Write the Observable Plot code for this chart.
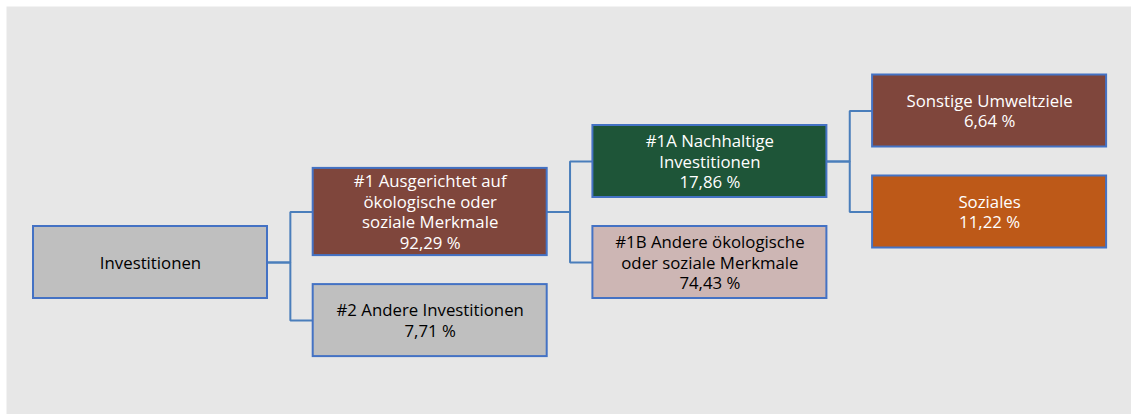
<!DOCTYPE html>
<html>
<head>
<meta charset="utf-8">
<script src="https://cdn.jsdelivr.net/npm/d3@7"></script>
<script src="https://cdn.jsdelivr.net/npm/@observablehq/plot@0.6"></script>
<style>
  html, body { margin: 0; padding: 0; background: #ffffff; }
  #chart svg { display: block; }
</style>
</head>
<body>
<div id="chart"></div>
<script>
// ---- Data ----
const ids = ["root", "1", "2", "1A", "1B", "env", "soc"];
const labels = [
  "Investitionen",
  "#1 Ausgerichtet auf\nökologische oder\nsoziale Merkmale",
  "#2 Andere Investitionen",
  "#1A Nachhaltige\nInvestitionen",
  "#1B Andere ökologische\noder soziale Merkmale",
  "Sonstige Umweltziele",
  "Soziales"
];
const shares = [null, 92.29, 7.71, 17.86, 74.43, 6.64, 11.22];
const parents = [null, "root", "root", "1", "1", "1A", "1A"];

// ---- Styles ----
const fillById = {root: "#bfbfbf", "1": "#7f463c", "2": "#bfbfbf", "1A": "#1e5538", "1B": "#cdb6b4", env: "#7f463c", soc: "#bd5918"};
const textById = {root: "#000000", "1": "#ffffff", "2": "#000000", "1A": "#ffffff", "1B": "#000000", env: "#ffffff", soc: "#ffffff"};

// ---- Layout (derived from the tree structure) ----
const W = 1131, H = 414;
const fontSize = 16.8, lineH = 20.6;
const colX0 = 33, colStep = 279.7, boxW = 234, gap = 29, minBoxH = 72, rootCY = 262;

const fmt = v => v.toFixed(2).replace(".", ",") + " %";
const nodes = ids.map((id, i) => {
  const text = shares[i] == null ? labels[i] : labels[i] + "\n" + fmt(shares[i]);
  const lines = text.split("\n").length;
  return {id, parent: parents[i], text, lines, h: Math.max(minBoxH, lines * 20.3 + 6)};
});
const byId = new Map(nodes.map(n => [n.id, n]));
nodes.forEach(n => n.children = nodes.filter(c => c.parent === n.id));
function place(n, depth, cy) {
  n.depth = depth;
  n.x1 = colX0 + depth * colStep; n.x2 = n.x1 + boxW;
  n.cy = cy; n.y1 = cy - n.h / 2; n.y2 = cy + n.h / 2;
  if (n.children.length) {
    const total = d3.sum(n.children, c => c.h) + gap * (n.children.length - 1);
    let top = cy - total / 2;
    for (const c of n.children) { place(c, depth + 1, top + c.h / 2); top += c.h + gap; }
  }
}
place(byId.get("root"), 0, rootCY);
const links = nodes.filter(n => n.parent).map(n => {
  const p = byId.get(n.parent);
  return {x1: p.x2, y1: p.cy, x2: n.x1, y2: n.cy};
});

const chart = Plot.plot({
  width: W, height: H,
  margin: 0,
  x: {type: "identity", axis: null},
  y: {type: "identity", axis: null},
  style: {fontFamily: "'Open Sans', sans-serif", background: "#ffffff"},
  marks: [
    Plot.frame({fill: "#e7e7e7", stroke: "none", insetLeft: 6, insetTop: 6}),
    Plot.link(links, {x1: "x1", y1: "y1", x2: "x2", y2: "y2", curve: "step", stroke: "#4a7ebb", strokeWidth: 2}),
    Plot.rect(nodes, {x1: "x1", x2: "x2", y1: "y1", y2: "y2", fill: d => fillById[d.id], stroke: "#4472c4", strokeWidth: 2}),
    Plot.text(nodes, {x: d => (d.x1 + d.x2) / 2, y: d => d.cy - 0.5, text: "text", fill: d => textById[d.id],
      fontSize: fontSize, lineHeight: lineH / fontSize, textAnchor: "middle"})
  ]
});
document.getElementById("chart").appendChild(chart);
</script>
</body>
</html>
